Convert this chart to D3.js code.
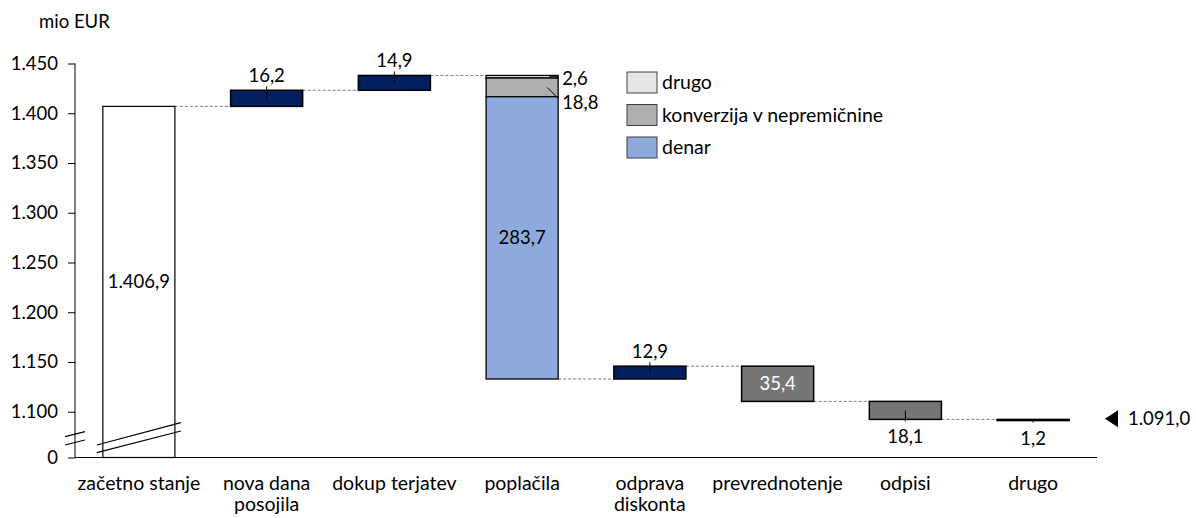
<!DOCTYPE html>
<html>
<head>
<meta charset="utf-8">
<script src="https://cdn.jsdelivr.net/npm/d3@7"></script>
<style>
  body { margin: 0; background: #fff; }
  svg { display: block; font-family: Lato, "Open Sans", sans-serif; }
</style>
</head>
<body>
<svg id="chart" width="1196" height="518"></svg>
<script>
const categories = [
  "začetno stanje",
  "nova dana\nposojila",
  "dokup terjatev",
  "poplačila",
  "odprava\ndiskonta",
  "prevrednotenje",
  "odpisi",
  "drugo"
];
// change per step (first = opening balance); poplačila is split below
const changes = [1406.9, 16.2, 14.9, null, 12.9, -35.4, -18.1, -1.2];
const repaymentSeries = ["drugo", "konverzija v nepremičnine", "denar"];
const repaymentValues = [2.6, 18.8, 283.7];
const endValue = 1091.0;
const yTicks = [1100, 1150, 1200, 1250, 1300, 1350, 1400, 1450];
const axisFloor = 1054; // broken axis: bottom of the axis is labelled 0

const colors = {
  start: "#ffffff",
  up: "#002060",
  down: "#767676",
  "drugo": "#e7e6e6",
  "konverzija v nepremičnine": "#aeaeae",
  "denar": "#8ea9db"
};

const FS = 18.5;   // numbers
const FSW = 19.5;  // words

const sl = d3.formatLocale({ decimal: ",", thousands: ".", grouping: [3], currency: ["", " €"] });
const fmtVal = sl.format(",.1f");
const fmtTick = sl.format(",");

const svg = d3.select("#chart");
const x0 = 75, x1 = 1097, yBottom = 457.5, yTop = 63.5;

const x = d3.scaleBand().domain(categories).range([x0, x1]).paddingInner(0.436).paddingOuter(0.218);
const y = d3.scaleLinear().domain([axisFloor, 1450]).range([yBottom, yTop]);

// running totals
const steps = [];
let level = 0;
categories.forEach((c, i) => {
  if (i === 0) {
    steps.push({ cat: c, from: axisFloor, to: changes[0], type: "start" });
    level = changes[0];
  } else if (changes[i] === null) {
    let top = level;
    const parts = repaymentSeries.map((s, k) => {
      const p = { cat: c, name: s, from: top, to: top - repaymentValues[k], value: repaymentValues[k] };
      top -= repaymentValues[k];
      return p;
    });
    steps.push({ cat: c, from: level, to: top, type: "stack", parts });
    level = top;
  } else {
    steps.push({ cat: c, from: level, to: level + changes[i], type: changes[i] > 0 ? "up" : "down", value: Math.abs(changes[i]) });
    level += changes[i];
  }
});

// axes
const yAxis = svg.append("g").attr("transform", `translate(${x0},0)`)
  .call(d3.axisLeft(y).tickValues([axisFloor, ...yTicks]).tickSize(7).tickPadding(10)
    .tickFormat(d => d === axisFloor ? "0" : fmtTick(d)));
yAxis.select(".domain").attr("stroke", "#000").attr("d", `M0,${yTop}V${yBottom}`);
yAxis.selectAll(".tick line").attr("stroke", "#000");
yAxis.selectAll(".tick text").attr("font-size", FS).attr("fill", "#000").attr("font-family", "Lato, sans-serif");

svg.append("text").attr("x", 39).attr("y", 28).attr("font-size", FSW - 1).attr("fill", "#000").text("mio EUR");

// connectors
const bw = x.bandwidth();
steps.slice(0, -1).forEach((s, i) => {
  const n = steps[i + 1];
  svg.append("line")
    .attr("x1", x(s.cat) + bw).attr("x2", x(n.cat))
    .attr("y1", y(s.to)).attr("y2", y(s.to))
    .attr("stroke", "#7f7f7f").attr("stroke-width", 1).attr("stroke-dasharray", "3,2");
});

// bars
const barG = svg.append("g");
steps.forEach(s => {
  if (s.type === "stack") {
    barG.selectAll(null).data(s.parts).join("rect")
      .attr("x", x(s.cat)).attr("width", bw)
      .attr("y", d => y(d.from)).attr("height", d => y(d.to) - y(d.from))
      .attr("fill", d => colors[d.name]).attr("stroke", "#000").attr("stroke-width", 1.3);
  } else {
    const top = Math.max(s.from, s.to), bot = Math.min(s.from, s.to);
    barG.append("rect")
      .attr("x", x(s.cat)).attr("width", bw)
      .attr("y", y(top)).attr("height", Math.max(y(bot) - y(top), 0.5))
      .attr("fill", colors[s.type]).attr("stroke", "#000").attr("stroke-width", s.type === "start" ? 1.2 : 1.5);
  }
});

// labels
const lab = svg.append("g").attr("font-size", FS).attr("fill", "#000");
steps.forEach(s => {
  const cx = x(s.cat) + bw / 2;
  const top = Math.max(s.from, s.to), bot = Math.min(s.from, s.to);
  const mid = (y(top) + y(bot)) / 2;
  if (s.type === "start") {
    lab.append("text").attr("x", cx).attr("y", mid).attr("dy", "0.35em")
      .attr("text-anchor", "middle").text(fmtVal(s.to));
  } else if (s.type === "up") {
    lab.append("line").attr("x1", cx).attr("x2", cx).attr("y1", y(top) - 4).attr("y2", mid).attr("stroke", "#000");
    lab.append("text").attr("x", cx).attr("y", y(top) - 8.5).attr("text-anchor", "middle").text(fmtVal(s.value));
  } else if (s.type === "down" && s.value > 30) {
    lab.append("text").attr("x", cx).attr("y", mid).attr("dy", "0.35em")
      .attr("text-anchor", "middle").attr("fill", "#fff").text(fmtVal(s.value));
  } else if (s.type === "down") {
    lab.append("line").attr("x1", cx).attr("x2", cx).attr("y1", mid).attr("y2", y(bot) + 2).attr("stroke", "#000");
    lab.append("text").attr("x", cx).attr("y", y(bot) + 24).attr("text-anchor", "middle").text(fmtVal(s.value));
  } else if (s.type === "stack") {
    const right = x(s.cat) + bw;
    s.parts.forEach(p => {
      const pm = (y(p.from) + y(p.to)) / 2;
      if (p.name === "denar") {
        lab.append("text").attr("x", right - bw / 2).attr("y", pm).attr("dy", "0.35em")
          .attr("text-anchor", "middle").text(fmtVal(p.value));
      } else if (p.name === "drugo") {
        lab.append("line").attr("x1", right - 9).attr("x2", right).attr("y1", pm).attr("y2", pm).attr("stroke", "#000");
        lab.append("text").attr("x", right + 4).attr("y", pm + 1.5).attr("dy", "0.35em").text(fmtVal(p.value));
      } else {
        lab.append("line").attr("x1", right - 11).attr("x2", right).attr("y1", pm).attr("y2", pm + 11).attr("stroke", "#000");
        lab.append("text").attr("x", right + 4).attr("y", pm + 15).attr("dy", "0.35em").text(fmtVal(p.value));
      }
    });
  }
});

// x axis + category labels
svg.append("line").attr("x1", x0).attr("x2", x1).attr("y1", yBottom).attr("y2", yBottom)
  .attr("stroke", "#000").attr("stroke-width", 1.2);
categories.forEach(c => {
  const t = svg.append("text").attr("x", x(c) + bw / 2).attr("y", 490)
    .attr("text-anchor", "middle").attr("font-size", FSW).attr("fill", "#000");
  c.split("\n").forEach((line, i) => {
    t.append("tspan").attr("x", x(c) + bw / 2).attr("dy", i === 0 ? 0 : 21).text(line);
  });
});

// axis break marks
const brk = svg.append("g").attr("stroke", "#000").attr("stroke-width", 1.2);
[[65, 436.7, 85, 431.7], [65, 445, 85, 440],
 [x(categories[0]) - 6, 445, x(categories[0]) + bw + 6, 422.7],
 [x(categories[0]) - 6, 452.7, x(categories[0]) + bw + 6, 431]].forEach(d => {
  brk.append("line").attr("x1", d[0]).attr("y1", d[1]).attr("x2", d[2]).attr("y2", d[3]);
});

// end value marker
const ye = y(endValue) - 2;
svg.append("path")
  .attr("d", `M1105,${ye} L1118,${ye - 8.5} L1118,${ye + 8.5} Z`).attr("fill", "#000");
svg.append("text").attr("x", 1128).attr("y", ye).attr("dy", "0.35em")
  .attr("font-size", FS).attr("fill", "#000").text(fmtVal(endValue));

// legend
const legend = svg.append("g").attr("transform", "translate(627,72)");
repaymentSeries.forEach((s, i) => {
  const g = legend.append("g").attr("transform", `translate(0,${i * 32.5})`);
  g.append("rect").attr("width", 30).attr("height", 21).attr("fill", colors[s])
    .attr("stroke", "#404040").attr("stroke-width", 1);
  g.append("text").attr("x", 35).attr("y", 10.5).attr("dy", "0.35em")
    .attr("font-size", FSW).attr("fill", "#000").text(s);
});
</script>
</body>
</html>
